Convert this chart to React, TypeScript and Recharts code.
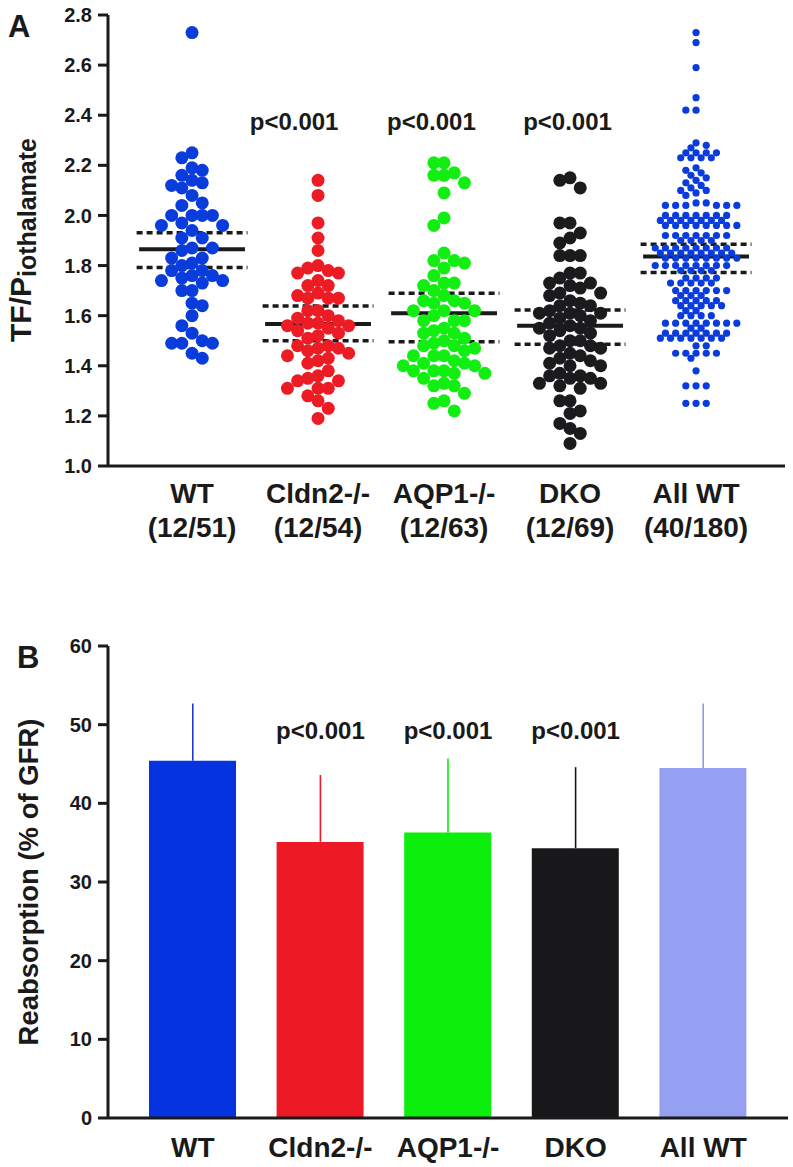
import React from "react";
import {
  ScatterChart,
  Scatter,
  BarChart,
  Bar,
  Cell,
  XAxis,
  YAxis,
  ReferenceLine,
  ReferenceDot,
} from "recharts";

// ---- data ----
const groups = ["WT", "Cldn2-/-", "AQP1-/-", "DKO", "All WT"];
const counts = ["(12/51)", "(12/54)", "(12/63)", "(12/69)", "(40/180)"];
const pLabels = ["", "p<0.001", "p<0.001", "p<0.001", ""];

const wtTF = [
  2.73, 2.25, 2.23, 2.19, 2.18, 2.16, 2.14, 2.13, 2.12, 2.11, 2.08, 2.05, 2.04,
  2.0, 2.0, 2.0, 2.0, 1.97, 1.96, 1.96, 1.94, 1.91, 1.91, 1.87, 1.86, 1.83,
  1.83, 1.81, 1.8, 1.78, 1.78, 1.76, 1.76, 1.75, 1.74, 1.74, 1.73, 1.7, 1.7,
  1.65, 1.64, 1.6, 1.56, 1.53, 1.5, 1.49, 1.49, 1.49, 1.45, 1.43, 1.87,
];
const cldn2TF = [
  2.14, 2.08, 1.97, 1.91, 1.86, 1.8, 1.79, 1.78, 1.77, 1.77, 1.74, 1.72, 1.72,
  1.69, 1.68, 1.67, 1.67, 1.67, 1.62, 1.62, 1.6, 1.59, 1.58, 1.57, 1.57, 1.56,
  1.56, 1.55, 1.54, 1.53, 1.51, 1.48, 1.48, 1.47, 1.47, 1.46, 1.45, 1.44, 1.43,
  1.42, 1.41, 1.38, 1.36, 1.35, 1.34, 1.34, 1.31, 1.31, 1.31, 1.28, 1.26, 1.23,
  1.19, 1.52,
];
const aqp1TF = [
  2.21, 2.21, 2.17, 2.16, 2.16, 2.13, 2.09, 1.99, 1.96, 1.85, 1.82, 1.81, 1.82,
  1.79, 1.76, 1.73, 1.72, 1.73, 1.7, 1.68, 1.66, 1.65, 1.66, 1.65, 1.62, 1.62,
  1.62, 1.6, 1.58, 1.58, 1.58, 1.55, 1.54, 1.53, 1.53, 1.51, 1.5, 1.49, 1.48,
  1.48, 1.47, 1.46, 1.44, 1.44, 1.44, 1.42, 1.41, 1.41, 1.4, 1.4, 1.38, 1.38,
  1.38, 1.37, 1.37, 1.35, 1.33, 1.32, 1.32, 1.29, 1.26, 1.25, 1.22,
];
const dkoTF = [
  2.15, 2.14, 2.11, 1.97, 1.97, 1.93, 1.91, 1.89, 1.84, 1.84, 1.84, 1.77, 1.77,
  1.75, 1.73, 1.73, 1.71, 1.72, 1.69, 1.68, 1.66, 1.64, 1.65, 1.64, 1.61, 1.61,
  1.61, 1.59, 1.58, 1.57, 1.55, 1.55, 1.54, 1.53, 1.52, 1.5, 1.48, 1.47, 1.48,
  1.47, 1.44, 1.43, 1.41, 1.42, 1.4, 1.4, 1.37, 1.36, 1.35, 1.36, 1.35, 1.33,
  1.33, 1.32, 1.31, 1.26, 1.26, 1.22, 1.21, 1.17, 1.15, 1.13, 1.09, 1.56, 1.6,
  1.5, 1.45, 1.69, 1.62,
];
const allWtTF = [
  2.73, 2.69, 2.59, 2.47, 2.42, 2.42, 2.29, 2.28, 2.27, 2.25, 2.25, 2.25, 2.25,
  2.23, 2.23, 2.23, 2.23, 2.19, 2.18, 2.17, 2.16, 2.15, 2.14, 2.13, 2.12, 2.11,
  2.1, 2.1, 2.09, 2.08, 2.05, 2.05, 2.04, 2.04, 2.04, 2.04, 2.04, 2.04, 2.0,
  2.0, 2.0, 2.0, 2.0, 2.0, 2.0, 1.98, 1.98, 1.98, 1.98, 1.98, 1.98, 1.98, 1.96,
  1.96, 1.96, 1.96, 1.96, 1.96, 1.96, 1.96, 1.92, 1.92, 1.92, 1.92, 1.92, 1.92,
  1.92, 1.9, 1.9, 1.9, 1.9, 1.87, 1.87, 1.87, 1.87, 1.87, 1.87, 1.87, 1.87,
  1.85, 1.85, 1.85, 1.85, 1.85, 1.85, 1.85, 1.85, 1.83, 1.83, 1.83, 1.83, 1.83,
  1.83, 1.83, 1.83, 1.8, 1.8, 1.8, 1.8, 1.8, 1.8, 1.8, 1.8, 1.78, 1.78, 1.78,
  1.78, 1.75, 1.75, 1.75, 1.75, 1.73, 1.73, 1.73, 1.73, 1.73, 1.7, 1.7, 1.7,
  1.7, 1.7, 1.7, 1.68, 1.68, 1.68, 1.66, 1.66, 1.66, 1.66, 1.66, 1.64, 1.64,
  1.64, 1.64, 1.64, 1.62, 1.62, 1.6, 1.6, 1.6, 1.6, 1.57, 1.57, 1.57, 1.57,
  1.57, 1.57, 1.57, 1.57, 1.55, 1.55, 1.53, 1.53, 1.53, 1.53, 1.53, 1.53, 1.53,
  1.51, 1.51, 1.51, 1.51, 1.51, 1.51, 1.51, 1.48, 1.48, 1.45, 1.45, 1.45, 1.45,
  1.45, 1.43, 1.38, 1.32, 1.32, 1.32, 1.25, 1.25, 1.25,
];
const tfSeries = [wtTF, cldn2TF, aqp1TF, dkoTF, allWtTF];

// mean (solid) and confidence band (dashed) lines
const tfMean = [1.865, 1.567, 1.61, 1.56, 1.836];
const tfLow = [1.792, 1.5, 1.496, 1.486, 1.772];
const tfHigh = [1.931, 1.639, 1.689, 1.623, 1.885];
const tfTicks = [1.0, 1.2, 1.4, 1.6, 1.8, 2.0, 2.2, 2.4, 2.6, 2.8];

const reabsorption = [45.4, 35.1, 36.3, 34.3, 44.5];
const reabsorptionErr = [7.3, 8.5, 9.4, 10.3, 8.2];
const reabTicks = [0, 10, 20, 30, 40, 50, 60];

// ---- styling ----
const FONT = '"Liberation Sans", Arial, Helvetica, sans-serif';
const INK = "#1a1a1a";
const dotColors = ["#0a3cdc", "#ec1c24", "#12ee12", "#1b1b1d", "#0a3cdc"];
const barColors = ["#0533e0", "#ed1a25", "#0cee0c", "#18181a", "#96a0f2"];
const errColors = ["#1c3ecf", "#ed1a25", "#0cee0c", "#18181a", "#8f9ae8"];
const dotRadius = [6.5, 6.5, 6.5, 6.5, 3.6];
const dotDy = [12.5, 12.5, 12.5, 12.5, 5.5];

const W = 793;
const A_H = 600;
const A_MARGIN = { top: 15, right: 8, bottom: 54, left: 48 };
const X_DOMAIN: [number, number] = [-0.667, 4.706];
const Y_DOMAIN: [number, number] = [1.0, 2.8];
const plotW = W - A_MARGIN.left - 60 - A_MARGIN.right;
const plotH = A_H - A_MARGIN.top - A_MARGIN.bottom - 80;
const pxPerX = plotW / (X_DOMAIN[1] - X_DOMAIN[0]);
const pxPerY = plotH / (Y_DOMAIN[1] - Y_DOMAIN[0]);

// column swarm on a half-slot grid: each point goes to the free spot nearest the centre
function swarm(values: number[], dyMin: number): number[] {
  const step = 10.2;
  const order = values.map((_, i) => i).sort((a, b) => values[b] - values[a]);
  const placed: { x: number; y: number }[] = [];
  const offs = new Array(values.length).fill(0);
  let side = -1;
  for (const i of order) {
    const py = values[i] * pxPerY;
    let done = false;
    for (let m = 0; m < 80 && !done; m++) {
      const cands = m === 0 ? [0] : [(side * m * step) / 2, (-side * m * step) / 2];
      for (const cx of cands) {
        const free = placed.every(
          (p) => ((p.x - cx) / step) ** 2 + ((p.y - py) / dyMin) ** 2 >= 0.999
        );
        if (free) {
          placed.push({ x: cx, y: py });
          offs[i] = cx / pxPerX;
          if (cx !== 0) side = -Math.sign(cx);
          done = true;
          break;
        }
      }
    }
  }
  return offs;
}

const TickA = (props: any) => {
  const { x, y, payload } = props;
  const i = Math.round(payload.value);
  return (
    <g fontFamily={FONT} fontWeight="bold" fontSize={28} fill={INK}>
      <text x={x} y={y + 37} textAnchor="middle" fill={INK}>
        {groups[i]}
      </text>
      <text x={x} y={y + 71} textAnchor="middle" fill={INK}>
        {counts[i]}
      </text>
    </g>
  );
};

const TickB = (props: any) => {
  const { x, y, payload } = props;
  return (
    <text
      x={x}
      y={y + 39}
      textAnchor="middle"
      fontFamily={FONT}
      fontWeight="bold"
      fontSize={28}
      fill={INK}
    >
      {payload.value}
    </text>
  );
};

const pShiftA = [0, 0.19, 0.1, 0.02, 0];

function PanelA() {
  return (
    <ScatterChart width={W} height={A_H} margin={A_MARGIN}>
      <XAxis
        type="number"
        dataKey="x"
        domain={X_DOMAIN}
        ticks={[0, 1, 2, 3, 4]}
        interval={0}
        height={80}
        tickLine={false}
        tickSize={0}
        tickMargin={0}
        axisLine={{ stroke: INK, strokeWidth: 3 }}
        tick={<TickA />}
        allowDataOverflow
      />
      <YAxis
        type="number"
        dataKey="y"
        domain={Y_DOMAIN}
        ticks={tfTicks}
        interval={0}
        width={60}
        tickSize={10}
        tickMargin={6}
        tickFormatter={(v: number) => v.toFixed(1)}
        axisLine={{ stroke: INK, strokeWidth: 3 }}
        tickLine={{ stroke: INK, strokeWidth: 3 }}
        tick={{ fill: INK, fontSize: 20, fontWeight: "bold", fontFamily: FONT }}
        allowDataOverflow
      />
      {tfSeries.map((vals, gi) => {
        const offs = swarm(vals, dotDy[gi]);
        const data = vals.map((v, j) => ({ x: gi + offs[j], y: v }));
        return (
          <Scatter
            key={groups[gi]}
            data={data}
            isAnimationActive={false}
            shape={(p: any) => (
              <circle cx={p.cx} cy={p.cy} r={dotRadius[gi]} fill={dotColors[gi]} />
            )}
          />
        );
      })}
      {groups.map((g, gi) => (
        <ReferenceLine
          key={"m" + g}
          segment={[
            { x: gi - 0.42, y: tfMean[gi] },
            { x: gi + 0.42, y: tfMean[gi] },
          ]}
          stroke={INK}
          strokeWidth={4}
        />
      ))}
      {groups.map((g, gi) =>
        [tfLow[gi], tfHigh[gi]].map((v, k) => (
          <ReferenceLine
            key={"c" + g + k}
            segment={[
              { x: gi - 0.44, y: v },
              { x: gi + 0.44, y: v },
            ]}
            stroke={INK}
            strokeWidth={3.5}
            strokeDasharray="6 4"
          />
        ))
      )}
      {groups.map((g, gi) =>
        pLabels[gi] ? (
          <ReferenceDot
            key={"p" + g}
            x={gi - pShiftA[gi]}
            y={2.375}
            r={0}
            fill="none"
            stroke="none"
            label={{
              value: pLabels[gi],
              position: "center",
              fill: INK,
              fontSize: 24,
              fontWeight: "bold",
              fontFamily: FONT,
            }}
          />
        ) : null
      )}
      <text x={8} y={37} fontFamily={FONT} fontWeight="bold" fontSize={31} fill={INK}>
        A
      </text>
      <text
        transform="translate(31,240) rotate(-90)"
        textAnchor="middle"
        fontFamily={FONT}
        fontWeight="bold"
        fontSize={30}
        fill={INK}
      >
        TF/P
        <tspan fontSize={25} dy={5}>
          iothalamate
        </tspan>
      </text>
    </ScatterChart>
  );
}

const barData = groups.map((g, i) => ({ name: g, value: reabsorption[i] }));

function PanelB() {
  return (
    <BarChart
      width={W}
      height={567}
      data={barData}
      margin={{ top: 46, right: 5, bottom: 4, left: 48 }}
      barSize={87}
    >
      <XAxis
        dataKey="name"
        height={45}
        padding={{ left: 21, right: 21 }}
        tickLine={false}
        tickSize={0}
        tickMargin={0}
        interval={0}
        axisLine={{ stroke: INK, strokeWidth: 3 }}
        tick={<TickB />}
      />
      <YAxis
        domain={[0, 60]}
        ticks={reabTicks}
        interval={0}
        width={60}
        tickSize={10}
        tickMargin={6}
        axisLine={{ stroke: INK, strokeWidth: 3 }}
        tickLine={{ stroke: INK, strokeWidth: 3 }}
        tick={{ fill: INK, fontSize: 20, fontWeight: "bold", fontFamily: FONT }}
      />
      <Bar dataKey="value" isAnimationActive={false}>
        {barData.map((d, i) => (
          <Cell key={d.name} fill={barColors[i]} />
        ))}
      </Bar>
      {barData.map((d, i) => (
        <ReferenceLine
          key={"e" + d.name}
          segment={[
            { x: d.name, y: d.value },
            { x: d.name, y: d.value + reabsorptionErr[i] },
          ]}
          stroke={errColors[i]}
          strokeWidth={1.6}
        />
      ))}
      {barData.map((d, i) =>
        pLabels[i] ? (
          <ReferenceDot
            key={"p" + d.name}
            x={d.name}
            y={49.2}
            r={0}
            fill="none"
            stroke="none"
            label={{
              value: pLabels[i],
              position: "center",
              fill: INK,
              fontSize: 24,
              fontWeight: "bold",
              fontFamily: FONT,
            }}
          />
        ) : null
      )}
      <text x={17} y={68} fontFamily={FONT} fontWeight="bold" fontSize={31} fill={INK}>
        B
      </text>
      <text
        transform="translate(38,282) rotate(-90)"
        textAnchor="middle"
        fontFamily={FONT}
        fontWeight="bold"
        fontSize={27.5}
        fill={INK}
      >
        Reabsorption (% of GFR)
      </text>
    </BarChart>
  );
}

export default function App() {
  return (
    <div
      style={{
        position: "absolute",
        left: 0,
        top: 0,
        width: W,
        height: 1167,
        background: "#fff",
      }}
    >
      <div style={{ position: "absolute", left: 0, top: 0 }}>
        <PanelA />
      </div>
      <div style={{ position: "absolute", left: 0, top: 600 }}>
        <PanelB />
      </div>
    </div>
  );
}
